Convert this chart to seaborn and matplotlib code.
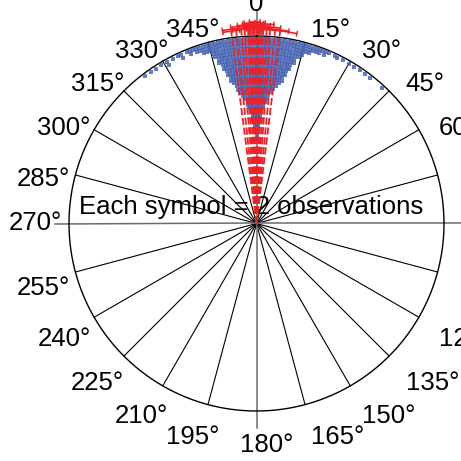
import numpy as np
import pandas as pd
import matplotlib
matplotlib.use("Agg")
import matplotlib.pyplot as plt
from matplotlib.transforms import offset_copy
import seaborn as sns

plt.rcParams['font.family'] = ['Liberation Sans', 'DejaVu Sans']

# ---- data -------------------------------------------------------------
# stacked symbols (each symbol = 2 observations), bin direction (deg) and number of symbols
bin_deg = [-37, -35, -33, -31, -29, -27, -25, -24, -22, -21, -20, -19, -18, -17, -16,
           -15, -14, -13, -12, -11, -10, -9, -8, -7, -6, -5, -4, -3, -2, -1,
           0, 1, 2, 3, 4, 5, 6, 7, 8, 9, 10, 11, 12, 13, 14, 15,
           16, 17, 18, 19, 20, 21, 22, 23, 25, 26, 28, 30, 32, 34, 36, 38, 43]
bin_symbols = [1, 1, 1, 1, 2, 1, 1, 2, 1, 2, 1, 2, 2, 3, 3,
               3, 5, 7, 9, 11, 13, 14, 16, 17, 18, 19, 21, 23, 25, 28,
               30, 28, 25, 22, 20, 19, 17, 16, 15, 14, 13, 11, 9, 7, 5, 4,
               3, 3, 2, 2, 2, 1, 2, 1, 1, 1, 1, 1, 1, 1, 1, 1, 1]

# mean directions (deg), CI half-widths (deg), plotted radius of CI bars
mean_deg = [-7.5, -6, -4.5, -3.5, -2.5, -2, -1.5, -1, -0.5, 0, 0.5, 1, 1.5, 2, 3, 4, 5.5, 7]
ci_half = [2.5, 4, 3, 2, 4.5, 1.5, 2.5, 3, 1.5, 2, 3.5, 1.5, 2.5, 5, 2, 3, 4, 5]
ci_radius = [1.035, 1.045, 1.055, 1.06, 1.04, 1.07, 1.05, 1.065, 1.075, 1.06,
             1.045, 1.07, 1.055, 1.04, 1.065, 1.05, 1.04, 1.035]

tick_deg = list(range(0, 360, 15))
annotation = "Each symbol = 2 observations"

# ---- layout -----------------------------------------------------------
W = H = 461
cx, cy, R = 256.5, 223.5, 187.5       # pixel centre / radius of the unit circle
rmax = 1.2
half = rmax * R
fig = plt.figure(figsize=(W / 100, H / 100), dpi=100)
ax = fig.add_axes([(cx - half) / W, (H - cy - half) / H, 2 * half / W, 2 * half / H],
                  projection='polar')
ax.set_theta_zero_location('N')
ax.set_theta_direction(-1)
ax.set_ylim(0, rmax)
ax.axis('off')

BLUE = '#4866b4'
RED = '#ec2227'

# spokes every 15 degrees
for a in tick_deg:
    if a % 90 == 0:
        continue
    t = np.deg2rad(a)
    ax.plot([t, t], [0, 1], color='black', lw=0.8, zorder=2)

# axis cross (grey, extends past the circle)
for a, rr in [(0, 1.14), (90, 1.1), (180, 1.09), (270, 1.075)]:
    t = np.deg2rad(a)
    ax.plot([t, t], [0, rr], color='#6b6b6b', lw=1.1, zorder=2)

# outer circle
th = np.linspace(0, 2 * np.pi, 721)
ax.plot(th, np.ones_like(th), color='black', lw=1.0, zorder=2)

# stacked symbols
dr = 3.3 / R
rows = []
for d, n in zip(bin_deg, bin_symbols):
    for k in range(n):
        rows.append((np.deg2rad(d % 360), 0.985 - k * dr))
pts = pd.DataFrame(rows, columns=['theta', 'r'])
sns.scatterplot(data=pts, x='theta', y='r', ax=ax, marker='s', s=5,
                color=BLUE, alpha=0.85, linewidth=0, legend=False, zorder=3)

# mean vectors with CI bars
for m, w, rb in zip(mean_deg, ci_half, ci_radius):
    t = np.deg2rad(m)
    ax.plot([t, t], [0, rb], color=RED, lw=1.3, ls=(0, (4, 1.5)), zorder=4)
    arc = np.deg2rad(np.linspace(m - w, m + w, 30))
    ax.plot(arc, np.full_like(arc, rb), color=RED, lw=1.2, zorder=4)
    for e in (m - w, m + w):
        te = np.deg2rad(e)
        ax.plot([te, te], [rb - 0.012, rb + 0.012], color=RED, lw=1.0, zorder=4)

# direction labels
FS = 18.5
RL = 211 / R
for a in tick_deg:
    t = np.deg2rad(a)
    txt = "0" if a == 0 else f"{a}\u00b0"
    if a == 0:
        ha, dx, dy = 'center', 0, 1.5
    elif a == 180:
        ha, dx, dy = 'center', 10, -17.5
    elif a < 180:
        ha, dx, dy = 'left', 0, -17
    else:
        ha, dx, dy = 'right', 17, -17
    if a in (90, 270):
        dy = -6
    tr = offset_copy(ax.transData, fig=fig, x=dx, y=dy, units='dots')
    ax.text(t, RL, txt, transform=tr, ha=ha, va='baseline', fontsize=FS,
            color='black', clip_on=False, zorder=5)

# annotation text
ax.text(0.5 + (-5 / R) / (2 * rmax), 0.5 + (9.5 / R) / (2 * rmax), annotation,
        transform=ax.transAxes, ha='center', va='baseline', fontsize=FS,
        color='black', zorder=1)

fig.savefig('out.png', dpi=100)
